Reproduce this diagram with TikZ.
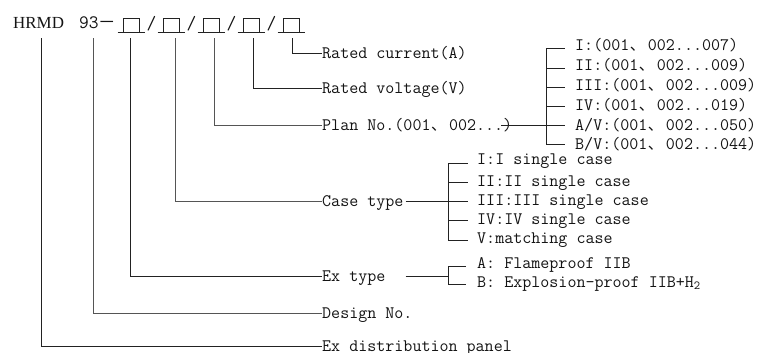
\documentclass[tikz,border=0pt]{standalone}
\usepackage{fontspec}
\newfontfamily\mono{Latin Modern Mono}
\newfontfamily\serifT{Liberation Serif}
\newfontfamily\cjk{Noto Sans CJK SC}
\newcommand\dcm{\makebox[18.5bp][l]{\cjk\fontsize{15.4}{16}\selectfont\hspace{0.5bp}、}}
\definecolor{txt}{HTML}{141414}
\definecolor{lnc}{HTML}{222222}
\definecolor{lng}{HTML}{555555}
\tikzset{
  lbl/.style={anchor=west, inner sep=0pt, text height=12bp, text depth=2bp,
    font=\mono\fontsize{17.6}{18}\selectfont, text=txt},
  ln/.style={line width=1bp, draw=lnc},
  lngr/.style={line width=1bp, draw=lng},
  sq/.style={draw=lnc, line width=0.9bp, minimum width=16bp, minimum height=14bp, inner sep=0pt},
  ttl/.style={anchor=base west, inner sep=0pt, text=txt},
}
\begin{document}
\begin{tikzpicture}[x=1bp,y=-1bp]
\useasboundingbox[fill=white] (0,0) rectangle (762,352);

% title
\node[ttl, font=\serifT\fontsize{17}{18}\selectfont] (hr) at (13,28.5) {HRMD};
\node[ttl, font=\mono\fontsize{19}{20}\selectfont] (n93) at (79,28.5) {93\raisebox{0bp}{\cjk\fontsize{17.5}{18}\selectfont －}};
\foreach \i/\x in {1/131,2/171,3/211,4/251,5/291}{
  \node[sq] (b\i) at (\x,25) {};
  \draw[line width=0.9bp, draw=lnc] ([xshift=-13.5bp]b\i.south) -- ([xshift=13.5bp]b\i.south);
}
\foreach \i/\x in {1/151.5,2/191.5,3/231.5,4/271.5}{
  \node[ttl, anchor=base, font=\mono\fontsize{19}{20}\selectfont] (s\i) at (\x,29) {/};
}

% top ends of the leaders
\coordinate (t1) at (41,38);
\coordinate (t2) at (93,38);
\coordinate (t3) at (130,38);
\coordinate (t4) at (175,38);
\coordinate (t5) at (214,38);
\coordinate (t6) at (253,38);
\coordinate (t7) at (292,38);

% main labels
\node[lbl] (lc)  at (322,53)    {Rated current(A)};
\node[lbl] (lv)  at (322,88)    {Rated voltage(V)};
\node[lbl] (lp)  at (322,125)   {Plan No.(001\dcm 002...)};
\node[lbl] (lct) at (322,201.5) {Case type};
\node[lbl] (let) at (322,276.5) {Ex type};
\node[lbl] (ldn) at (322,313)   {Design No.};
\node[lbl] (lep) at (322,346.5) {Ex distribution panel};

\draw[ln]   (t7) |- (lc.west);
\draw[ln]   (t6) |- (lv.west);
\draw[lngr] (t5) |- (lp.west);
\draw[lngr] (t4) |- (lct.west);
\draw[ln]   (t3) |- (let.west);
\draw[lngr] (t2) |- (ldn.west);
\draw[ln]   (t1) |- (lep.west);

% plan items
\node[lbl] (p1) at (575,45)  {I:(001\dcm 002...007)};
\node[lbl] (p2) at (575,65)  {II:(001\dcm 002...009)};
\node[lbl] (p3) at (575,85)  {III:(001\dcm 002...009)};
\node[lbl] (p4) at (575,105) {IV:(001\dcm 002...019)};
\node[lbl] (p5) at (575,125) {A/V:(001\dcm 002...050)};
\node[lbl] (p6) at (575,144) {B/V:(001\dcm 002...044)};
\foreach \i/\y in {1/48.5,2/68,3/87,4/106.5,5/125,6/144.5}{
  \coordinate (pb\i) at (546,\y);
  \draw[ln, shorten >=10bp] (pb\i) -- (pb\i -| p\i.west);
}
\draw[ln] (pb1) -- (pb6);
\draw[ln] ([xshift=-11bp]lp.east) -- (pb5);

% case items
\node[lbl] (c1) at (477,159) {I:I single case};
\node[lbl] (c2) at (477,181) {II:II single case};
\node[lbl] (c3) at (477,200) {III:III single case};
\node[lbl] (c4) at (477,219) {IV:IV single case};
\node[lbl] (c5) at (477,238) {V:matching case};
\foreach \i/\y in {1/163,2/182,3/201.5,4/220,5/240}{
  \coordinate (cb\i) at (448,\y);
  \draw[ln, shorten >=9bp] (cb\i) -- (cb\i -| c\i.west);
}
\draw[ln] (cb1) -- (cb5);
\draw[ln] ([xshift=2bp]lct.east) -- (cb3);

% ex items
\node[lbl] (e1) at (477,263) {A: Flameproof IIB};
\node[lbl] (e2) at (477,282) {B: Explosion-proof IIB+H\textsubscript{2}};
\coordinate (eb1) at (448,266);
\coordinate (eb2) at (448,284);
\coordinate (eb0) at (448,276.5);
\draw[ln, shorten >=11bp] (eb1) -- (eb1 -| e1.west);
\draw[ln, shorten >=11bp] (eb2) -- (eb2 -| e2.west);
\draw[ln] (eb1) -- (eb2);
\draw[ln] ([xshift=20bp]let.east) -- (eb0);
\end{tikzpicture}
\end{document}
